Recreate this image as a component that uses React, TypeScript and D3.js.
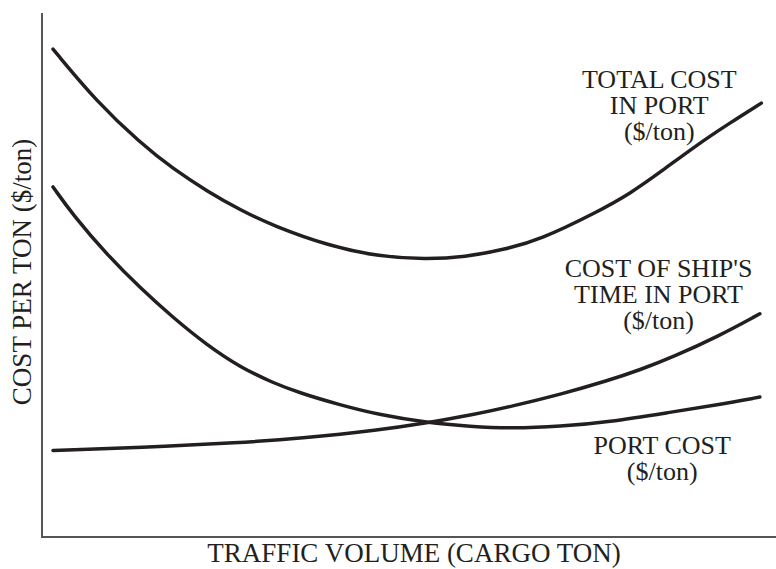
import React, { useRef, useEffect } from 'react';
import * as d3 from 'd3';

// traffic volume (arbitrary units 0-100) and cost per ton (arbitrary units 0-100)
const totalX = [1.5, 7.5, 13.4, 17.9, 22.5, 27.0, 31.5, 39.2, 46.0, 52.2, 57.6, 63.1, 67.8, 75.6, 80.1, 84.6, 89.2, 93.7, 98.0];
const totalY = [93.1, 83.0, 75.2, 70.2, 66.0, 62.4, 59.4, 55.5, 53.5, 53.0, 53.4, 54.9, 56.7, 62.0, 65.5, 70.0, 74.8, 79.0, 82.8];

const fallingX = [1.5, 4.2, 8.9, 13.4, 17.9, 22.5, 27.0, 31.5, 35.1, 40.6, 46.0, 52.5, 58.3, 64.2, 70.6, 77.0, 86.0, 92.0, 97.8];
const fallingY = [66.8, 61.5, 53.8, 47.5, 41.8, 36.6, 32.4, 29.4, 27.5, 25.2, 23.3, 21.8, 21.1, 20.7, 21.1, 21.9, 23.9, 25.2, 26.7];

const risingX = [1.5, 13.4, 27.0, 35.1, 46.0, 52.5, 58.3, 64.2, 70.6, 77.0, 81.5, 86.0, 92.0, 97.8];
const risingY = [16.5, 17.1, 18.0, 18.8, 20.4, 21.8, 23.2, 25.0, 27.2, 29.8, 31.9, 34.4, 38.2, 42.6];

const curveLabels = [
  { lines: ['TOTAL COST', 'IN PORT', '($/ton)'], x: 84.1, y: 85.6 },
  { lines: ['COST OF SHIP\'S', 'TIME IN PORT', '($/ton)'], x: 84.0, y: 49.7 },
  { lines: ['PORT COST', '($/ton)'], x: 84.5, y: 15.8 },
];

const xTitle = 'TRAFFIC VOLUME (CARGO TON)';
const yTitle = 'COST PER TON ($/ton)';

const ink = '#231f20';
const font = '"Liberation Serif", "Times New Roman", serif';

const App = () => {
  const ref = useRef<SVGSVGElement>(null);

  useEffect(() => {
    if (!ref.current) return;
    const width = 776;
    const height = 569;
    const margin = { top: 13, right: 0, bottom: 32, left: 42 };

    const svg = d3.select(ref.current);
    svg.selectAll('*').remove();

    const x = d3.scaleLinear().domain([0, 100]).range([margin.left, width - margin.right]);
    const y = d3.scaleLinear().domain([0, 100]).range([height - margin.bottom, margin.top]);

    // axes: plain lines, no ticks
    svg.append('line')
      .attr('x1', x(0)).attr('x2', x(0))
      .attr('y1', y(100)).attr('y2', y(0))
      .attr('stroke', '#555').attr('stroke-width', 2);
    svg.append('line')
      .attr('x1', x(0) - 1).attr('x2', x(100))
      .attr('y1', y(0)).attr('y2', y(0))
      .attr('stroke', '#555').attr('stroke-width', 2);

    const series = [
      { xs: totalX, ys: totalY },
      { xs: fallingX, ys: fallingY },
      { xs: risingX, ys: risingY },
    ];

    const line = d3.line<[number, number]>()
      .x(d => x(d[0]))
      .y(d => y(d[1]))
      .curve(d3.curveBasis);

    series.forEach(s => {
      const pts = s.xs.map((v, i) => [v, s.ys[i]] as [number, number]);
      svg.append('path')
        .datum(pts)
        .attr('fill', 'none')
        .attr('stroke', ink)
        .attr('stroke-width', 3.5)
        .attr('stroke-linecap', 'round')
        .attr('d', line);
    });

    curveLabels.forEach(lbl => {
      const t = svg.append('text')
        .attr('x', x(lbl.x))
        .attr('y', y(lbl.y))
        .attr('text-anchor', 'middle')
        .attr('font-family', font)
        .attr('font-size', 26)
        .attr('fill', ink);
      lbl.lines.forEach((s, i) => {
        t.append('tspan')
          .attr('x', x(lbl.x))
          .attr('dy', i === 0 ? 0 : 26)
          .text(s);
      });
    });

    svg.append('text')
      .attr('x', 414)
      .attr('y', height - 7)
      .attr('text-anchor', 'middle')
      .attr('font-family', font)
      .attr('font-size', 27)
      .attr('fill', ink)
      .text(xTitle);

    svg.append('text')
      .attr('transform', `translate(31,${(y(0) + y(100)) / 2 - 3}) rotate(-90)`)
      .attr('text-anchor', 'middle')
      .attr('font-family', font)
      .attr('font-size', 27)
      .attr('fill', ink)
      .text(yTitle);
  }, []);

  return (
    <svg
      ref={ref}
      width={776}
      height={569}
      style={{ position: 'absolute', left: 0, top: 0, background: '#fff' }}
    />
  );
};

export default App;
